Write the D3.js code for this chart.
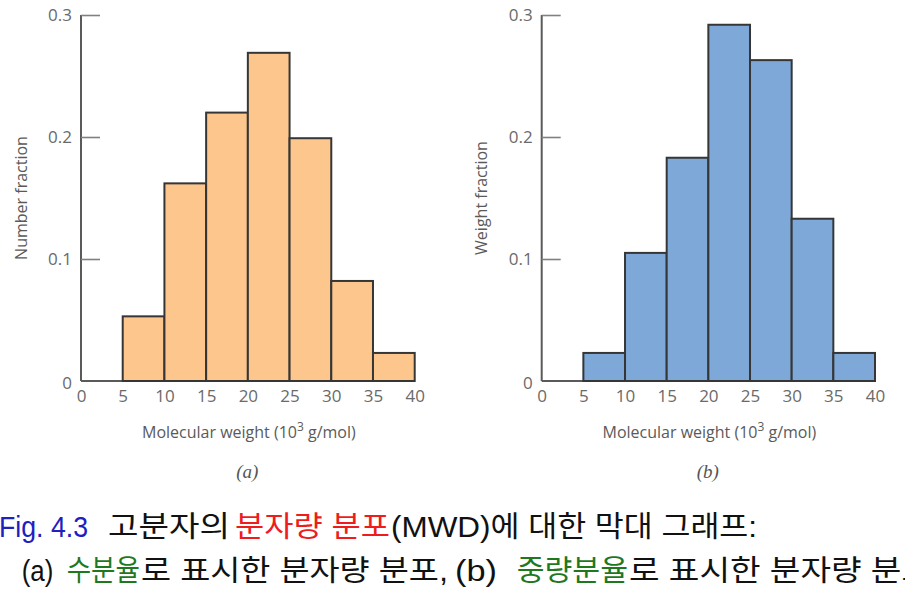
<!DOCTYPE html>
<html>
<head>
<meta charset="utf-8">
<script src="https://cdn.jsdelivr.net/npm/d3@7"></script>
<style>
  html, body { margin: 0; padding: 0; background: #fff; }
  svg { display: block; }
</style>
</head>
<body>
<svg id="chart" width="905" height="594"></svg>
<script>
// ---- data ----
const binStarts = [5, 10, 15, 20, 25, 30, 35];
const binWidth = 5;
const numberFraction = [0.053, 0.162, 0.220, 0.269, 0.199, 0.082, 0.023];
const weightFraction = [0.023, 0.105, 0.183, 0.292, 0.263, 0.133, 0.023];
const xTicks = [0, 5, 10, 15, 20, 25, 30, 35, 40];
const yTicks = [0, 0.1, 0.2, 0.3];
const yTickLabels = ["0", "0.1", "0.2", "0.3"];
const panelLabels = ["(a)", "(b)"];
const yTitles = ["Number fraction", "Weight fraction"];
const captionLine1 = [
  { t: "Fig. 4.3", c: "#2020c0" },
  { t: "고분자의", c: "#111" },
  { t: "분자량 분포", c: "#ee1c1c" },
  { t: "(MWD)에 대한 막대 그래프:", c: "#111" }
];
const captionLine2 = [
  { t: "(a)", c: "#111" },
  { t: "수분율", c: "#1e781e" },
  { t: "로 표시한 분자량 분포,", c: "#111" },
  { t: "(b)", c: "#111" },
  { t: "중량분율", c: "#1e781e" },
  { t: "로 표시한 분자량 분포", c: "#111" }
];

// ---- layout ----
const svg = d3.select("#chart");
const panels = [
  { x0: 81, x1: 414.7, values: numberFraction, fill: "#fcc68c", label: panelLabels[0], title: yTitles[0], titleX: 27 },
  { x0: 541.7, x1: 875, values: weightFraction, fill: "#7da8d8", label: panelLabels[1], title: yTitles[1], titleX: 487 }
];
const yTop = 15, yBottom = 381;
const axisFont = "'Open Sans', 'DejaVu Sans', sans-serif";

panels.forEach(p => {
  const x = d3.scaleLinear().domain([0, 40]).range([p.x0, p.x1]);
  const y = d3.scaleLinear().domain([0, 0.3]).range([yBottom, yTop]);
  const g = svg.append("g");

  // x baseline
  g.append("line")
    .attr("x1", x(0)).attr("x2", x(40))
    .attr("y1", y(0)).attr("y2", y(0))
    .attr("stroke", "#5a5a5a").attr("stroke-width", 2);

  // bars
  g.selectAll("rect.bar")
    .data(binStarts.map((s, i) => ({ s, v: p.values[i] })))
    .join("rect")
    .attr("class", "bar")
    .attr("x", d => x(d.s))
    .attr("width", d => x(d.s + binWidth) - x(d.s))
    .attr("y", d => y(d.v))
    .attr("height", d => y(0) - y(d.v))
    .attr("fill", p.fill)
    .attr("stroke", "#363636")
    .attr("stroke-width", 2);

  // y axis (ticks pointing inward)
  const yAxis = d3.axisRight(y).tickValues(yTicks).tickSize(19).tickFormat("");
  const ya = g.append("g").attr("transform", `translate(${x(0)},0)`).call(yAxis);
  ya.select(".domain").attr("stroke", "#5a5a5a").attr("stroke-width", 2)
    .attr("d", `M0,${y(0.3)}V${y(0)}`);
  ya.selectAll(".tick line").attr("stroke", "#808080").attr("stroke-width", 1.6);
  ya.selectAll(".tick").filter(d => d === 0).select("line").remove();

  // y tick labels
  g.selectAll("text.ylab")
    .data(yTicks)
    .join("text")
    .attr("class", "ylab")
    .attr("x", x(0) - 9)
    .attr("y", (d) => y(d) + (d === 0 ? 2 : 0))
    .attr("dy", "0.35em")
    .attr("text-anchor", "end")
    .attr("font-family", axisFont)
    .attr("font-size", 17)
    .attr("fill", "#6a6a6a")
    .text((d, i) => yTickLabels[i]);

  // x tick labels
  const xAxis = d3.axisBottom(x).tickValues(xTicks).tickSize(0).tickPadding(0);
  const xa = g.append("g").attr("transform", `translate(0,${y(0) + 9})`).call(xAxis);
  xa.select(".domain").remove();
  xa.selectAll(".tick text")
    .attr("font-family", axisFont)
    .attr("font-size", 17)
    .attr("fill", "#6a6a6a");

  // x title
  const xt = g.append("text")
    .attr("x", (p.x0 + p.x1) / 2 + 1)
    .attr("y", 438)
    .attr("text-anchor", "middle")
    .attr("font-family", axisFont)
    .attr("font-size", 16)
    .attr("fill", "#5a5a5a");
  xt.append("tspan").text("Molecular weight (10");
  xt.append("tspan").attr("font-size", 12).attr("dy", -7).text("3");
  xt.append("tspan").attr("dy", 7).text(" g/mol)");

  // y title
  g.append("text")
    .attr("transform", `translate(${p.titleX},198) rotate(-90)`)
    .attr("text-anchor", "middle")
    .attr("font-family", axisFont)
    .attr("font-size", 16)
    .attr("fill", "#5a5a5a")
    .text(p.title);

  // panel label
  g.append("text")
    .attr("x", (p.x0 + p.x1) / 2 - 0.5)
    .attr("y", 478)
    .attr("text-anchor", "middle")
    .attr("font-family", "'Liberation Serif', serif")
    .attr("font-style", "italic")
    .attr("font-size", 19)
    .attr("fill", "#555")
    .text(p.label);
});

// ---- caption ----
const capFont = "'Liberation Sans', 'Noto Sans CJK KR', sans-serif";
const line1Pos = [[-1, 88], [108, 230], [235, 390], [391, 757]];
const line2Pos = [[21.7, 53.3], [66.7, 140], [141, 448], [455, 497], [516.7, 628], [629, 932]];
function drawLine(segs, pos, baseline) {
  segs.forEach((s, i) => {
    svg.append("text")
      .attr("x", pos[i][0])
      .attr("y", baseline)
      .attr("font-family", capFont)
      .attr("font-size", 29)
      .attr("fill", s.c)
      .attr("textLength", pos[i][1] - pos[i][0])
      .attr("lengthAdjust", "spacingAndGlyphs")
      .text(s.t);
  });
}
drawLine(captionLine1, line1Pos, 537);
drawLine(captionLine2, line2Pos, 581);
</script>
</body>
</html>
